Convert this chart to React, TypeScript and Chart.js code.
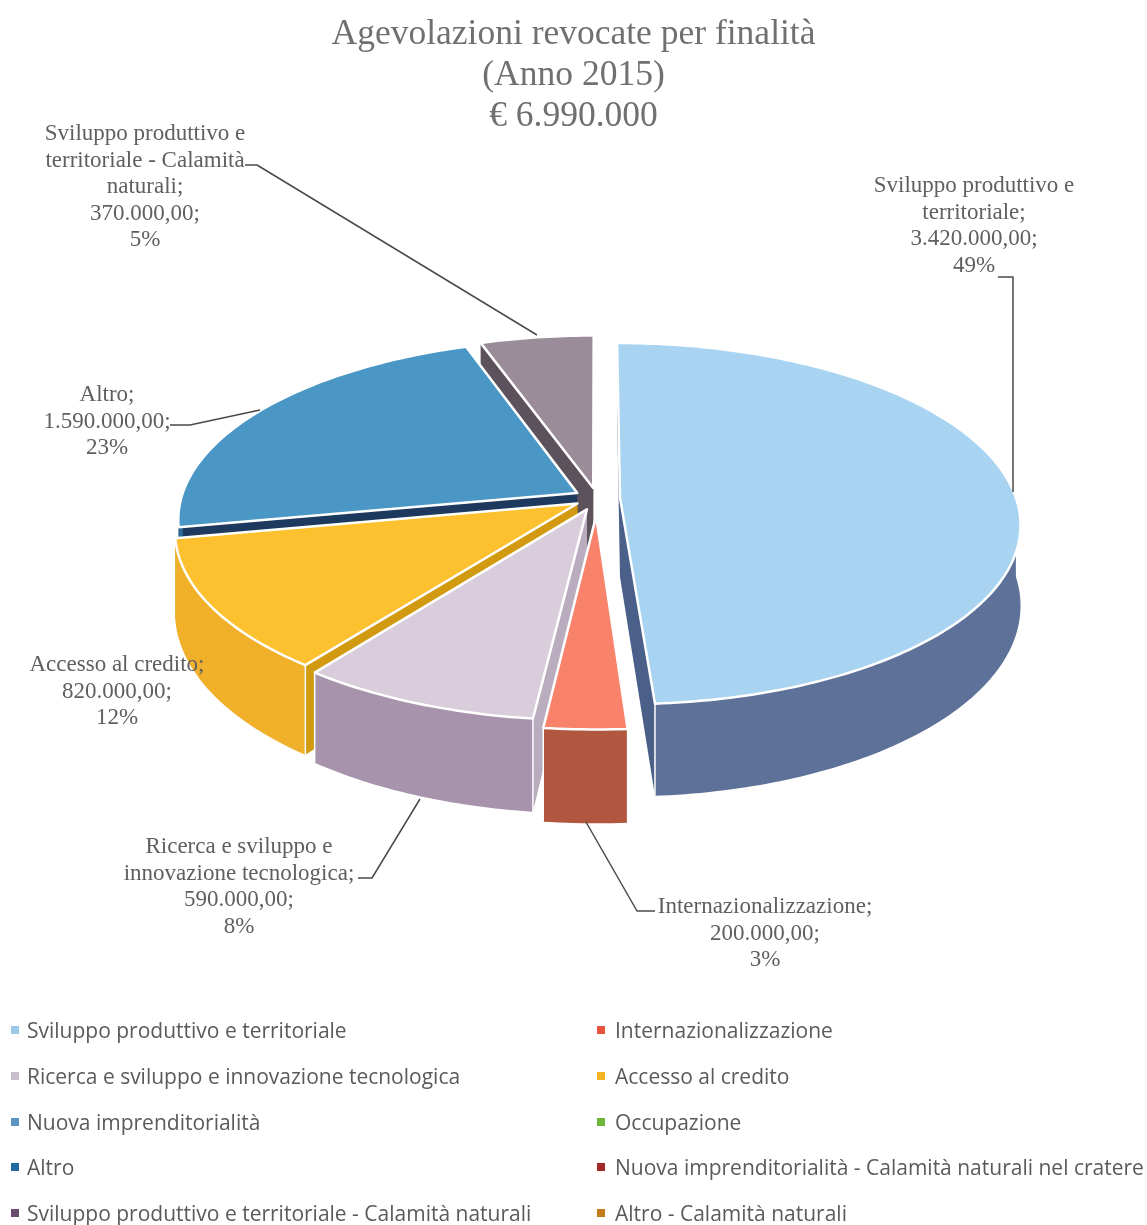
import React, { useEffect, useRef } from "react";
import { Chart, registerables } from "chart.js";

Chart.register(...registerables);

const titleLines = ["Agevolazioni revocate per finalità", "(Anno 2015)", "€ 6.990.000"];

const categories = [
  "Sviluppo produttivo e territoriale",
  "Internazionalizzazione",
  "Ricerca e sviluppo e innovazione tecnologica",
  "Accesso al credito",
  "Nuova imprenditorialità",
  "Occupazione",
  "Altro",
  "Nuova imprenditorialità - Calamità naturali nel cratere",
  "Sviluppo produttivo e territoriale - Calamità naturali",
  "Altro - Calamità naturali",
];
const values = [3420000, 200000, 590000, 820000, 0, 0, 1590000, 0, 370000, 0];

const topColors = ["#A9D4F1", "#F9826A", "#D9CCDB", "#FDC02E", "#6D9ECF", "#6FB63F", "#4A97C6", "#9E2A2B", "#9A8D99", "#C77A1B"];
const wallColors = ["#5E7299", "#B2573F", "#A794AC", "#F0B02A", "#4A76A0", "#4E8A2A", "#2C6A95", "#701D1E", "#6B5F6A", "#8E5510"];
const edgeColors = ["#4A6089", "#8F4530", "#B9ACBE", "#D29A10", "#3A5E85", "#3E6E20", "#1D3A5E", "#5A1718", "#5C525B", "#6E420C"];
const legendColors = ["#9CC8E8", "#E8533F", "#C9BED0", "#F5B324", "#5F93C4", "#6FB63F", "#1F6A9E", "#A32A2B", "#6B4C6E", "#C77A1B"];
const explode = [23, 40, 27, 23, 0, 0, 23, 0, 23, 0];

// Label text, one list of wrapped name lines per visible slice.
const labelNames: Record<number, string[]> = {
  0: ["Sviluppo produttivo e", "territoriale;"],
  1: ["Internazionalizzazione;"],
  2: ["Ricerca e sviluppo e", "innovazione tecnologica;"],
  3: ["Accesso al credito;"],
  6: ["Altro;"],
  8: ["Sviluppo produttivo e", "territoriale - Calamità", "naturali;"],
};

const CX = 597, CY = 498, RX = 396, RY = 177, PERSP = 0.1436, DEPTH = 79;

const labelPlaces: Record<number, { x: number; y: number; leader?: number[][] }> = {
  0: { x: 974, y: 186, leader: [[998, 277], [1013, 277], [1013, 492]] },
  1: { x: 765, y: 907, leader: [[586, 822], [637, 911], [655, 911]] },
  2: { x: 239, y: 847, leader: [[420, 799], [372, 878], [358, 878]] },
  3: { x: 117, y: 665 },
  6: { x: 107, y: 395, leader: [[170, 425], [190, 425], [260, 410]] },
  8: { x: 145, y: 134, leader: [[245, 165], [257, 165], [537, 335]] },
};

function money(v: number) {
  return String(v).replace(/\B(?=(\d{3})+$)/g, ".") + ",00";
}

const piePlugin = {
  id: "perspectivePie",
  beforeDatasetsDraw(chart: any) {
    const ctx: CanvasRenderingContext2D = chart.ctx;
    const meta = chart.getDatasetMeta(0);
    const total = values.reduce((a, b) => a + b, 0);
    const slices = meta.data
      .map((el: any, i: number) => {
        const p = el.getProps(["startAngle", "endAngle", "outerRadius"], true);
        const mid = (p.startAngle + p.endAngle) / 2;
        return { i, start: p.startAngle, end: p.endAngle, R: p.outerRadius, mid, off: el.options.offset };
      })
      .filter((s: any) => values[s.i] > 0)
      .sort((a: any, b: any) => Math.sin(a.mid) - Math.sin(b.mid));

    for (const s of slices) {
      const ox = (Math.cos(s.mid) * s.off) / s.R;
      const oy = (Math.sin(s.mid) * s.off) / s.R;
      const proj = (r: number, a: number, h: number) => {
        const u = r * Math.cos(a) + ox;
        const v = r * Math.sin(a) + oy;
        const k = 1 / (1 - PERSP * v);
        return [CX + RX * u * k, CY + RY * v * k + h * k];
      };
      const poly = (pts: number[][]) => {
        ctx.beginPath();
        pts.forEach((q, n) => (n ? ctx.lineTo(q[0], q[1]) : ctx.moveTo(q[0], q[1])));
        ctx.closePath();
      };
      const rim = (a0: number, a1: number, h: number) => {
        const n = Math.max(2, Math.ceil(Math.abs(a1 - a0) * 60));
        return Array.from({ length: n + 1 }, (_, j) => proj(1, a0 + ((a1 - a0) * j) / n, h));
      };

      // radial walls
      for (const a of [s.start, s.end]) {
        poly([proj(0, a, 0), proj(1, a, 0), proj(1, a, DEPTH), proj(0, a, DEPTH)]);
        ctx.fillStyle = edgeColors[s.i];
        ctx.fill();
      }
      // visible part of the outer wall
      const a0 = Math.max(s.start, 0);
      const a1 = Math.min(s.end, Math.PI);
      if (a1 > a0) {
        poly([...rim(a0, a1, 0), ...rim(a1, a0, DEPTH)]);
        ctx.fillStyle = wallColors[s.i];
        ctx.fill();
        // white seams where a front wall meets a side wall
        ctx.strokeStyle = "#ffffff";
        ctx.lineWidth = 1.5;
        for (const a of [a0, a1]) {
          if (Math.sin(a) > 0.2) {
            const q0 = proj(1, a, 0);
            const q1 = proj(1, a, DEPTH);
            ctx.beginPath();
            ctx.moveTo(q0[0], q0[1]);
            ctx.lineTo(q1[0], q1[1]);
            ctx.stroke();
          }
        }
      }
      // top face
      poly([proj(0, s.start, 0), ...rim(s.start, s.end, 0)]);
      ctx.fillStyle = topColors[s.i];
      ctx.fill();
      ctx.strokeStyle = "#ffffff";
      ctx.lineWidth = 2.5;
      ctx.lineJoin = "round";
      ctx.stroke();
    }

    // leader lines and data labels
    ctx.textAlign = "center";
    ctx.textBaseline = "middle";
    ctx.font = "23px 'Liberation Serif'";
    Object.keys(labelNames).forEach((key) => {
      const i = Number(key);
      const place = labelPlaces[i];
      if (place.leader) {
        ctx.beginPath();
        place.leader.forEach((q, n) => (n ? ctx.lineTo(q[0], q[1]) : ctx.moveTo(q[0], q[1])));
        ctx.strokeStyle = "#4a4a4a";
        ctx.lineWidth = 1.5;
        ctx.stroke();
      }
      const lines = [...labelNames[i], money(values[i]) + ";", Math.round((values[i] / total) * 100) + "%"];
      ctx.fillStyle = "#5f5f5f";
      lines.forEach((t, n) => ctx.fillText(t, place.x, place.y + n * 26.6));
    });

    // legend in two columns
    ctx.textAlign = "left";
    ctx.font = "21px 'Open Sans'";
    const rows = [1030, 1076, 1122, 1167, 1213];
    categories.forEach((c, i) => {
      const col = i % 2;
      const y = rows[Math.floor(i / 2)];
      ctx.fillStyle = legendColors[i];
      ctx.fillRect(col ? 597 : 11, y - 4, 8, 8);
      ctx.fillStyle = "#5a5a5a";
      ctx.fillText(c, col ? 615 : 27, y + 2);
    });
    return false;
  },
};

export default function App() {
  const ref = useRef<HTMLCanvasElement | null>(null);
  useEffect(() => {
    const chart = new Chart(ref.current as HTMLCanvasElement, {
      type: "pie",
      data: {
        labels: categories,
        datasets: [{ data: values, backgroundColor: topColors, offset: explode, radius: RX, borderWidth: 0 } as any],
      },
      options: {
        responsive: false,
        animation: false,
        devicePixelRatio: 1,
        plugins: {
          legend: { display: false },
          tooltip: { enabled: false },
          title: {
            display: true,
            text: titleLines,
            color: "#707070",
            font: { family: "'Liberation Serif'", size: 35.5, weight: "normal", lineHeight: 1.155 },
            padding: { top: 14, bottom: 0 },
          },
        },
      },
      plugins: [piePlugin],
    } as any);
    return () => chart.destroy();
  }, []);
  return (
    <div style={{ position: "absolute", left: 0, top: 0, background: "#fff" }}>
      <canvas ref={ref} width={1147} height={1225} style={{ display: "block" }} />
    </div>
  );
}
